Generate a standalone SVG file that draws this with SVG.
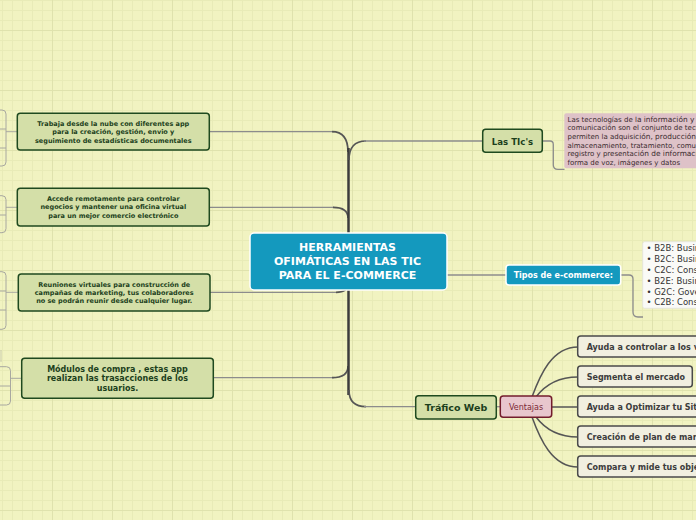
<svg xmlns="http://www.w3.org/2000/svg" width="696" height="520" viewBox="0 0 696 520">
<style>
.lbox{fill:#d4dfa8;stroke:#1f4a1f;stroke-width:1.5}
.ltxt{font-family:"DejaVu Sans",Verdana,sans-serif;font-weight:bold;fill:#1c3f1c;text-anchor:middle}
.blue{fill:#1499be;stroke:#ffffff;stroke-width:1.5}
.wtxt{font-family:"DejaVu Sans",Verdana,sans-serif;font-weight:bold;fill:#ffffff;text-anchor:middle}
.gbox{fill:#f1efe0;stroke:#4a4a4a;stroke-width:1.5}
.gtxt{font-family:"DejaVu Sans",Verdana,sans-serif;font-weight:bold;font-size:8px;fill:#3c3c3c}
.ntxt{font-family:"DejaVu Sans",Verdana,sans-serif;font-size:7px;fill:#3a2a2e}
.list{font-family:"DejaVu Sans",Verdana,sans-serif;font-size:8.5px;fill:#333333}
.thin{fill:none;stroke:#8c8c8c;stroke-width:1.3}
.faint{fill:none;stroke:#a8a8a0;stroke-width:1}
.trunk{fill:none;stroke:#3c3c3c;stroke-width:2.5}
.curve{fill:none;stroke:#555555;stroke-width:1.7}
.dark{fill:none;stroke:#555555;stroke-width:1.5}
</style>
<defs>
<pattern id="grid" width="60" height="60" patternUnits="userSpaceOnUse">
<rect width="60" height="60" fill="#f1f3c1"/>
<path d="M2.5 0V60M12.5 0V60M22.5 0V60M32.5 0V60M42.5 0V60M0 0.5H60M0 10.5H60M0 20.5H60M0 40.5H60M0 50.5H60" stroke="#e8ebb7" stroke-width="1"/>
<path d="M52.5 0V60M0 30.5H60" stroke="#dfe2ad" stroke-width="1"/>
</pattern>
</defs>
<rect width="696" height="520" fill="url(#grid)"/>

<g id="connectors">
<path class="thin" d="M334 131.7 L209 131.7"/>
<path class="curve" d="M348 152 Q348 131.7 332 131.7"/>
<path class="thin" d="M334 207.3 L209 207.3"/>
<path class="curve" d="M348 218 Q348 207.3 333 207.3"/>
<path class="thin" d="M336 292.3 L210 292.3"/>
<path class="curve" d="M348 284 Q348 292.3 336 292.3"/>
<path class="thin" d="M334 377.7 L213 377.7"/>
<path class="curve" d="M348 366 Q348 377.7 332 377.7"/>
<path class="trunk" d="M348.5 148 L348.5 395"/>
<path class="curve" d="M349 160 Q349 141 366 141"/>
<path class="thin" d="M364 141 L483 141"/>
<path class="thin" d="M447 275 L506 275"/>
<path class="curve" d="M349 390 Q349 406.7 366 406.7"/>
<path class="thin" d="M364 406.7 L416 406.7"/>
<path class="thin" d="M496 406.7 L500 406.7"/>
<path class="thin" d="M542 141 L550 141 Q553.3 141 553.3 144.5 L553.3 165 Q553.3 169.3 558 169.3 L564.5 169.3"/>
<path class="thin" d="M621 275 L629 275 Q633 275 633 279 L633 312 Q633 317 638 317 L643 317"/>
<path class="dark" d="M532 397 C540 375 552 347 578 347"/>
<path class="dark" d="M536 397 C545 385 558 377 578 377"/>
<path class="dark" d="M552 407 L578 407"/>
<path class="dark" d="M536 417 C545 429 558 437 578 437"/>
<path class="dark" d="M532 417 C540 439 552 467 578 467"/>
<path class="faint" d="M17 131.7 L6 131.7 M-2 110 L2 110 Q6 110 6 114 L6 162 Q6 166 2 166 L-2 166 M0 129 L6 129 M0 148 L6 148"/>
<path class="faint" d="M17 207.3 L6 207.3 M-2 195.7 L2 195.7 Q6 195.7 6 199.7 L6 228.7 Q6 232.7 2 232.7 L-2 232.7 M0 215 L6 215"/>
<path class="faint" d="M18 292.3 L6 292.3 M-2 271.7 L2 271.7 Q6 271.7 6 275.7 L6 325.3 Q6 329.3 2 329.3 L-2 329.3 M0 291 L6 291 M0 310 L6 310"/>
<path class="faint" d="M21.7 378.3 L10.5 378.3 M-2 366.7 L6.5 366.7 Q10.5 366.7 10.5 370.7 L10.5 401 Q10.5 405 6.5 405 L-2 405 M0 386 L10.5 386"/>
<path class="faint" d="M1 350 L1 362" stroke-opacity="0.5"/>
</g>

<g id="center">
<rect class="blue" x="250" y="233" width="197" height="57" rx="4"/>
<text class="wtxt" font-size="11" x="347.5" y="251">HERRAMIENTAS</text>
<text class="wtxt" font-size="11" x="347.5" y="265">OFIMÁTICAS EN LAS TIC </text>
<text class="wtxt" font-size="11" x="347.5" y="279">PARA EL E-COMMERCE</text>
</g>

<g id="n-trabaja">
<rect class="lbox" x="17.3" y="113.3" width="192" height="36.7" rx="3"/>
<text class="ltxt" font-size="6.5" x="113.3" y="126.2">Trabaja desde la nube con diferentes app</text>
<text class="ltxt" font-size="6.5" x="113.3" y="134.4">para la creación, gestión, envio y</text>
<text class="ltxt" font-size="6.5" x="113.3" y="142.6">seguimiento de estadísticas documentales</text>
</g>

<g id="n-accede">
<rect class="lbox" x="17.3" y="188.3" width="192" height="37.7" rx="3"/>
<text class="ltxt" font-size="6.5" x="113.3" y="201">Accede remotamente para controlar</text>
<text class="ltxt" font-size="6.5" x="113.3" y="209.3">negocios y mantener una oficina virtual</text>
<text class="ltxt" font-size="6.5" x="113.3" y="217.5">para un mejor comercio electrónico</text>
</g>

<g id="n-reuniones">
<rect class="lbox" x="18.3" y="274" width="191.7" height="37" rx="3"/>
<text class="ltxt" font-size="6.5" x="114.2" y="286.8">Reuniones virtuales para construcción de</text>
<text class="ltxt" font-size="6.5" x="114.2" y="295.1">campañas de marketing, tus colaboradores</text>
<text class="ltxt" font-size="6.5" x="114.2" y="303.4">no se podrán reunir desde cualquier lugar.</text>
</g>

<g id="n-modulos">
<rect class="lbox" x="21.7" y="358.3" width="191.6" height="40" rx="3"/>
<text class="ltxt" font-size="8" x="117.5" y="372">Módulos de compra , estas app</text>
<text class="ltxt" font-size="8" x="117.5" y="381.3">realizan las trasacciones de los</text>
<text class="ltxt" font-size="8" x="117.5" y="390.5">usuarios.</text>
</g>

<g id="n-tics">
<rect class="lbox" x="482.7" y="129.3" width="59.6" height="23" rx="3"/>
<text class="ltxt" font-size="8.6" x="512.5" y="144.5">Las TIc's</text>
</g>

<g id="n-tics-note">
<rect x="564.3" y="113.3" width="140" height="55" rx="2" fill="#dec2c8"/>
<text class="ntxt" x="567.5" y="121.5">Las tecnologías de l<tspan font-size="7.4">a información  y comunicación</tspan></text>
<text class="ntxt" x="567.5" y="130.2">comunicación son el conjunto de tecnologías que</text>
<text class="ntxt" x="567.5" y="138.9">permiten la adquisi<tspan font-size="7.4">ción, producción,</tspan></text>
<text class="ntxt" x="567.5" y="147.6">almacenamiento, tratamiento, comunicación,</text>
<text class="ntxt" x="567.5" y="156.3">registro y presentac<tspan font-size="7.4">ión de información en</tspan></text>
<text class="ntxt" x="567.5" y="165">forma de voz, imágenes y datos</text>
</g>

<g id="n-tipos">
<rect class="blue" x="506" y="265" width="114.7" height="20" rx="3"/>
<text class="wtxt" font-size="8" x="563.3" y="278">Tipos de e-commerce:</text>
</g>

<g id="n-tipos-list">
<rect x="642.7" y="241.7" width="60" height="66.6" rx="2" fill="#fafaf7" stroke="#e2e2da" stroke-width="0.8"/>
<text class="list" x="646.5" y="251.3">• B2B: Business to Business</text>
<text class="list" x="646.5" y="262.1">• B2C: Business to Consumer</text>
<text class="list" x="646.5" y="272.9">• C2C: Consumer to Consumer</text>
<text class="list" x="646.5" y="283.7">• B2E: Business to Employee</text>
<text class="list" x="646.5" y="294.5">• G2C: Government to Citizen</text>
<text class="list" x="646.5" y="305.3">• C2B: Consumer to Business</text>
</g>

<g id="n-trafico">
<rect class="lbox" x="415.7" y="395.7" width="80.6" height="23.3" rx="3"/>
<text class="ltxt" font-size="9.5" x="456" y="411">Tráfico Web</text>
</g>

<g id="n-ventajas">
<rect x="500.3" y="396" width="51.4" height="21.3" rx="3" fill="#e8c6cd" stroke="#731c2c" stroke-width="1.5"/>
<text x="526" y="410" font-family="DejaVu Sans, Verdana, sans-serif" font-size="8" fill="#7a2636" text-anchor="middle">Ventajas</text>
</g>

<g id="v1">
<rect class="gbox" x="577.7" y="336" width="130" height="21" rx="3"/>
<text class="gtxt" x="586.7" y="349.5">Ayuda a controlar a los visitantes</text>
</g>
<g id="v2">
<rect class="gbox" x="577.7" y="366" width="114.6" height="21" rx="3"/>
<text class="gtxt" x="586.7" y="379.5">Segmenta el mercado</text>
</g>
<g id="v3">
<rect class="gbox" x="577.7" y="396" width="130" height="21" rx="3"/>
<text class="gtxt" x="586.7" y="409.5">Ayuda a Optimizar tu Sitio Web</text>
</g>
<g id="v4">
<rect class="gbox" x="577.7" y="426" width="130" height="21" rx="3"/>
<text class="gtxt" x="586.7" y="439.5">Creación de plan de marketing</text>
</g>
<g id="v5">
<rect class="gbox" x="577.7" y="456" width="130" height="21" rx="3"/>
<text class="gtxt" x="586.7" y="469.5">Compara y mide tus objetivos</text>
</g>
</svg>
